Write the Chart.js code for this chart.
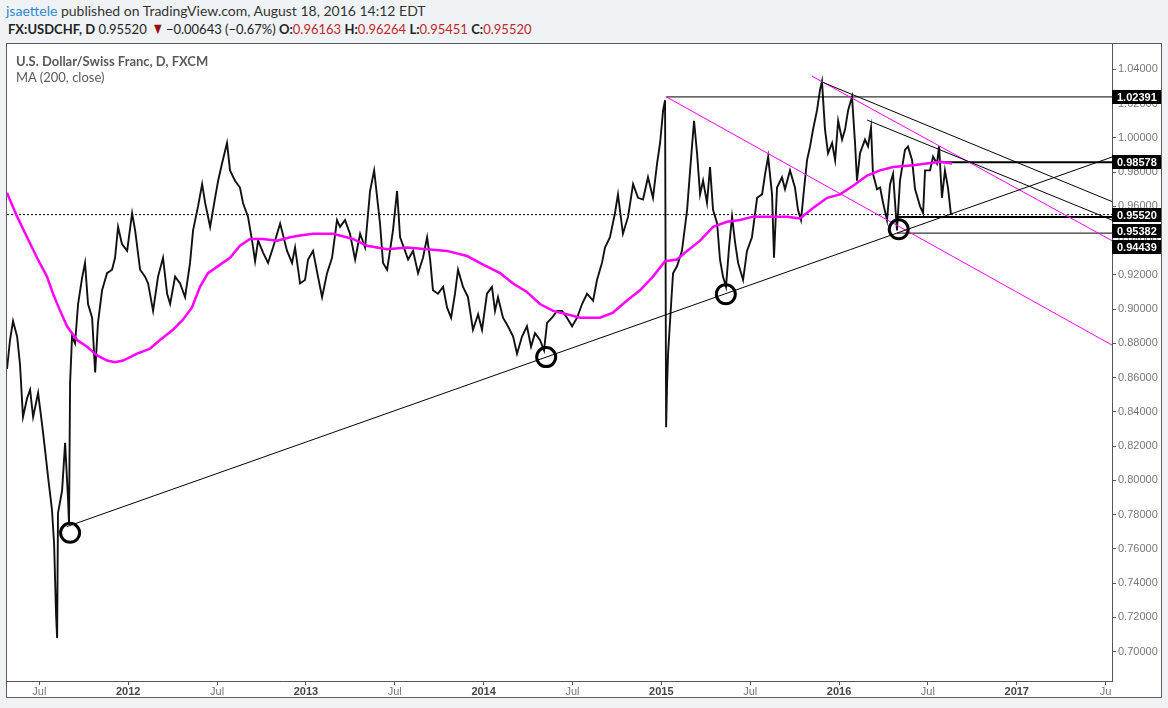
<!DOCTYPE html>
<html>
<head>
<meta charset="utf-8">
<script src="https://cdn.jsdelivr.net/npm/chart.js@4.4.0/dist/chart.umd.min.js"></script>
<style>
	body{margin:0;width:1168px;height:708px;overflow:hidden;background:#f0f3f6;font-family:Lato,"Noto Sans",sans-serif;position:relative}
	.head1{position:absolute;left:6px;top:2px;font-size:14px;color:#333;white-space:nowrap}
	.head1 .user{color:#2d8ad0}
	.head2{position:absolute;left:8px;top:21px;font-size:13px;color:#222;white-space:nowrap;line-height:17px}
	.red{color:#c0262d}
	.down{color:#9a0d0d;font-size:16px;line-height:10px;display:inline-block;transform:scaleX(0.8)}
	#box{position:absolute;left:6px;top:43px;width:1154px;height:653px;border:1px solid #5c5c5c;background:#fff}
	#chart{position:absolute;left:0;top:0}
	.legend{position:absolute;left:9px;top:9px;font-size:13px;color:#5a5a5a;line-height:16px;white-space:nowrap}
</style>
</head>
<body>
<div class="head1"><span class="user">jsaettele</span> published on TradingView.com, August 18, 2016 14:12 EDT</div>
<div class="head2"><b>FX:USDCHF, D</b> 0.95520 <span class="down">&#9660;</span>&minus;0.00643 (&minus;0.67%) <b>O:</b><span class="red">0.96163</span> <b>H:</b><span class="red">0.96264</span> <b>L:</b><span class="red">0.95451</span> <b>C:</b><span class="red">0.95520</span></div>
<div id="box">
	<canvas id="chart" width="1154" height="653"></canvas>
	<div class="legend"><b>U.S. Dollar/Swiss Franc, D, FXCM</b><br>MA (200, close)</div>
</div>
<script>
// dates as decimal years, prices
const priceDates = [
	2011.318,2011.335,2011.352,2011.375,2011.391,2011.408,2011.431,2011.448,2011.465,2011.493,
	2011.515,2011.532,2011.549,2011.571,2011.583,2011.594,2011.600,2011.605,2011.628,2011.645,
	2011.662,2011.667,2011.673,2011.684,2011.701,2011.718,2011.740,2011.757,2011.774,2011.797,
	2011.814,2011.830,2011.853,2011.881,2011.909,2011.926,2011.943,2011.965,2011.994,
	2012.022,2012.039,2012.067,2012.095,2012.112,2012.140,2012.168,2012.196,2012.219,2012.236,
	2012.264,2012.292,2012.320,2012.348,2012.365,2012.393,2012.416,2012.433,2012.461,2012.489,
	2012.506,2012.528,2012.556,2012.573,2012.601,2012.629,2012.646,2012.674,2012.697,2012.714,
	2012.731,2012.759,2012.787,2012.815,2012.855,2012.894,2012.922,2012.939,2012.967,2012.995,
	2013.012,2013.040,2013.068,2013.091,2013.119,2013.147,2013.175,2013.192,2013.220,2013.248,
	2013.277,2013.305,2013.333,2013.361,2013.384,2013.400,2013.417,2013.434,2013.457,2013.473,
	2013.490,2013.513,2013.530,2013.558,2013.575,2013.603,2013.631,2013.659,2013.682,2013.699,
	2013.715,2013.743,2013.772,2013.794,2013.817,2013.839,2013.856,2013.884,2013.912,2013.940,
	2013.969,2013.991,2014.019,2014.047,2014.064,2014.081,2014.109,2014.137,2014.166,2014.188,
	2014.216,2014.244,2014.267,2014.289,2014.317,2014.340,2014.357,2014.385,2014.413,2014.441,
	2014.469,2014.498,2014.526,2014.554,2014.582,2014.616,2014.638,2014.666,2014.683,2014.711,
	2014.739,2014.756,2014.784,2014.813,2014.841,2014.869,2014.897,2014.925,2014.953,2014.976,
	2014.993,2015.010,2015.021,2015.027,2015.032,2015.038,2015.055,2015.066,2015.088,2015.116,
	2015.145,2015.162,2015.184,2015.201,2015.218,2015.235,2015.257,2015.274,2015.291,2015.314,
	2015.330,2015.347,2015.364,2015.381,2015.398,2015.415,2015.432,2015.460,2015.482,2015.510,
	2015.539,2015.567,2015.584,2015.601,2015.623,2015.634,2015.651,2015.679,2015.696,2015.724,
	2015.752,2015.769,2015.786,2015.803,2015.820,2015.837,2015.854,2015.876,2015.893,2015.904,
	2015.921,2015.938,2015.961,2015.978,2015.995,2016.017,2016.034,2016.051,2016.073,2016.090,
	2016.101,2016.118,2016.146,2016.163,2016.180,2016.191,2016.214,2016.231,2016.248,2016.270,
	2016.287,2016.304,2016.326,2016.343,2016.371,2016.388,2016.411,2016.428,2016.456,2016.473,
	2016.484,2016.512,2016.529,2016.551,2016.563,2016.579,2016.596,2016.613,2016.630
];
const priceClose = [
	0.865,0.882,0.893,0.884,0.868,0.837,0.848,0.853,0.837,0.851,
	0.833,0.818,0.802,0.783,0.763,0.722,0.708,0.781,0.794,0.822,
	0.788,0.774,0.857,0.884,0.880,0.903,0.918,0.927,0.903,0.895,
	0.863,0.892,0.911,0.921,0.923,0.930,0.948,0.938,0.934,
	0.956,0.946,0.923,0.919,0.915,0.899,0.919,0.930,0.909,0.903,
	0.919,0.915,0.907,0.927,0.946,0.960,0.973,0.962,0.948,0.965,
	0.975,0.985,0.997,0.981,0.975,0.971,0.962,0.954,0.940,0.928,
	0.940,0.933,0.927,0.936,0.950,0.934,0.927,0.936,0.915,0.917,
	0.929,0.934,0.919,0.907,0.921,0.930,0.952,0.948,0.952,0.944,
	0.929,0.944,0.936,0.969,0.981,0.966,0.950,0.927,0.923,0.934,
	0.946,0.969,0.942,0.934,0.929,0.934,0.921,0.930,0.942,0.929,
	0.911,0.909,0.913,0.901,0.895,0.909,0.923,0.913,0.907,0.888,
	0.897,0.888,0.909,0.913,0.899,0.907,0.895,0.890,0.884,0.874,
	0.884,0.890,0.878,0.886,0.882,0.876,0.892,0.895,0.899,0.899,
	0.895,0.890,0.895,0.903,0.909,0.905,0.917,0.927,0.936,0.942,
	0.956,0.967,0.944,0.954,0.973,0.965,0.964,0.977,0.965,0.985,
	0.997,1.016,1.022,0.831,0.855,0.874,0.903,0.921,0.925,0.934,
	0.958,0.981,1.010,0.991,0.967,0.975,0.962,0.983,0.958,0.950,
	0.929,0.919,0.913,0.936,0.954,0.939,0.927,0.917,0.934,0.942,
	0.965,0.967,0.979,0.989,0.967,0.930,0.971,0.977,0.970,0.981,
	0.971,0.958,0.952,0.970,0.987,0.995,1.005,1.016,1.028,1.033,
	1.005,0.991,0.997,0.987,1.010,0.999,1.005,1.016,1.024,0.997,
	0.975,0.991,0.999,0.995,1.006,0.979,0.970,0.971,0.962,0.952,
	0.973,0.979,0.946,0.975,0.993,0.995,0.987,0.970,0.960,0.956,
	0.981,0.981,0.989,0.985,0.995,0.965,0.981,0.971,0.955
];
const maDates = [
	2011.318,2011.375,2011.431,2011.487,2011.543,2011.577,2011.617,2011.656,2011.712,2011.769,
	2011.825,2011.881,2011.926,2011.971,2012.050,2012.123,2012.179,2012.252,2012.309,2012.359,
	2012.404,2012.449,2012.517,2012.573,2012.629,2012.686,2012.759,2012.838,2012.911,2012.967,
	2013.040,2013.153,2013.265,2013.344,2013.457,2013.569,2013.682,2013.794,2013.907,2013.997,
	2014.093,2014.166,2014.244,2014.317,2014.391,2014.469,2014.543,2014.655,2014.728,2014.807,
	2014.880,2014.953,2015.021,2015.088,2015.145,2015.218,2015.291,2015.370,2015.443,2015.516,
	2015.595,2015.707,2015.781,2015.854,2015.933,2016.006,2016.079,2016.158,2016.231,2016.304,
	2016.417,2016.568,2016.636
];
const maValues = [
	0.968,0.954,0.942,0.930,0.919,0.909,0.899,0.890,0.882,0.878,
	0.873,0.870,0.869,0.870,0.874,0.877,0.882,0.888,0.894,0.901,
	0.913,0.921,0.926,0.930,0.937,0.941,0.941,0.940,0.942,0.943,
	0.944,0.944,0.941,0.937,0.935,0.936,0.935,0.934,0.931,0.926,
	0.921,0.915,0.910,0.903,0.899,0.897,0.895,0.895,0.898,0.905,
	0.911,0.919,0.928,0.929,0.934,0.940,0.948,0.951,0.952,0.954,
	0.954,0.954,0.953,0.959,0.965,0.967,0.972,0.978,0.981,0.983,
	0.984,0.986,0.985
];
// trend lines: [startDate, startPrice, endDate, endPrice]
const blackLines = [
	[2011.654, 0.7730, 2017.536, 0.9888],
	[2015.904, 1.0326, 2017.536, 0.9628],
	[2016.158, 1.0104, 2017.536, 0.9520]
];
const pinkLines = [
	[2015.027, 1.0240, 2017.536, 0.8790],
	[2015.848, 1.0360, 2017.536, 0.9400]
];
const levelValues = [1.02391, 0.98578, 0.95382, 0.94439];
const levelStarts = [2015.027, 2016.565, 2016.326, 2016.326];
const lastClose = 0.95520;
const circleDates = [2011.673, 2014.352, 2015.363, 2016.336];
const circleValues = [0.7694, 0.8720, 0.9087, 0.9466];
const tagValues = [1.02391, 0.98578, 0.95520, 0.95382, 0.94439];
const yTicks = [0.70,0.72,0.74,0.76,0.78,0.80,0.82,0.84,0.86,0.88,0.90,0.92,0.94,0.96,0.98,1.00,1.02,1.04];
const xTickDates = [2011.5,2012,2012.5,2013,2013.5,2014,2014.5,2015,2015.5,2016,2016.5,2017,2017.5];
const xTickLabels = ['Jul','2012','Jul','2013','Jul','2014','Jul','2015','Jul','2016','Jul','2017','Ju'];

const xMin = 2011.318, xMax = 2017.536;
const yMin = 0.6829, yMax = 1.0548;
const levelWidths = [1, 2, 2, 1];
const axisColor = '#555';

let pts = (xs, ys) => xs.map((x, i) => ({x: x, y: ys[i]}));
let seg = (l) => [{x: l[0], y: l[1]}, {x: l[2], y: l[3]}];
let lineSet = (data, color, width, order) => ({
	data: data, borderColor: color, borderWidth: width, pointRadius: 0, order: order, tension: 0
});

let datasets = [];
datasets.push({
	type: 'scatter', data: pts(circleDates, circleValues), order: 0,
	pointRadius: 9.5, pointHoverRadius: 9.5, pointBorderWidth: 3,
	pointBorderColor: '#000', pointBackgroundColor: 'rgba(0,0,0,0)'
});
datasets.push(lineSet(pts(maDates, maValues), '#ff00ff', 2.5, 1));
blackLines.forEach((l) => datasets.push(lineSet(seg(l), '#000', 1, 2)));
pinkLines.forEach((l) => datasets.push(lineSet(seg(l), '#ff00ff', 1, 2)));
levelValues.forEach((v, i) => datasets.push(lineSet(seg([levelStarts[i], v, xMax, v]), '#000', levelWidths[i], 2)));
datasets.push(lineSet(pts(priceDates, priceClose), '#111', 1.9, 3));
let dotted = lineSet(seg([xMin, lastClose, xMax, lastClose]), '#000', 1, 4);
dotted.borderDash = [2, 2];
datasets.push(dotted);

// black price boxes on the right axis
const tagPlugin = {
	id: 'tags',
	afterDraw(chart) {
		let ctx = chart.ctx, area = chart.chartArea, y = chart.scales.y;
		let prev = -100;
		ctx.save();
		ctx.font = 'bold 11px "Liberation Sans", Arial, sans-serif';
		ctx.textBaseline = 'middle';
		tagValues.slice().sort((a, b) => b - a).forEach((v) => {
			let py = y.getPixelForValue(v);
			if (py < prev + 16) py = prev + 16;
			prev = py;
			ctx.fillStyle = '#000';
			ctx.fillRect(area.right, Math.round(py) - 7, chart.width - area.right, 14);
			ctx.fillStyle = '#fff';
			ctx.fillText(v.toFixed(5), area.right + 5, Math.round(py) + 0.5);
		});
		ctx.restore();
	}
};

new Chart(document.getElementById('chart'), {
	type: 'line',
	data: {datasets: datasets},
	plugins: [tagPlugin],
	options: {
		responsive: false,
		animation: false,
		devicePixelRatio: 1,
		layout: {padding: 0, autoPadding: false},
		plugins: {legend: {display: false}, tooltip: {enabled: false}},
		scales: {
			x: {
				type: 'linear', position: 'bottom', min: xMin, max: xMax,
				afterBuildTicks: (s) => { s.ticks = xTickDates.map((v) => ({value: v})); },
				afterFit: (s) => { s.height = 16; s.paddingLeft = 0; s.paddingRight = 0; },
				grid: {drawOnChartArea: false, drawTicks: true, tickLength: 4, color: axisColor},
				border: {color: axisColor},
				ticks: {
					autoSkip: false, maxRotation: 0, padding: 0,
					callback: (v, i) => xTickLabels[i],
					color: (c) => (xTickLabels[c.index] || '').length === 4 ? '#444' : '#777',
					font: (c) => ({family: '"Liberation Sans", Arial, sans-serif', size: 11,
						weight: (xTickLabels[c.index] || '').length === 4 ? 'bold' : 'normal'})
				}
			},
			y: {
				type: 'linear', position: 'right', min: yMin, max: yMax,
				afterBuildTicks: (s) => { s.ticks = yTicks.map((v) => ({value: v})); },
				afterFit: (s) => { s.width = 49; s.paddingTop = 0; s.paddingBottom = 0; },
				grid: {drawOnChartArea: false, drawTicks: true, tickLength: 4, color: axisColor},
				border: {color: axisColor},
				ticks: {
					padding: 2, color: '#777',
					font: {family: '"Liberation Sans", Arial, sans-serif', size: 11},
					callback: (v) => v.toFixed(5)
				}
			}
		}
	}
});
</script>
</body>
</html>
